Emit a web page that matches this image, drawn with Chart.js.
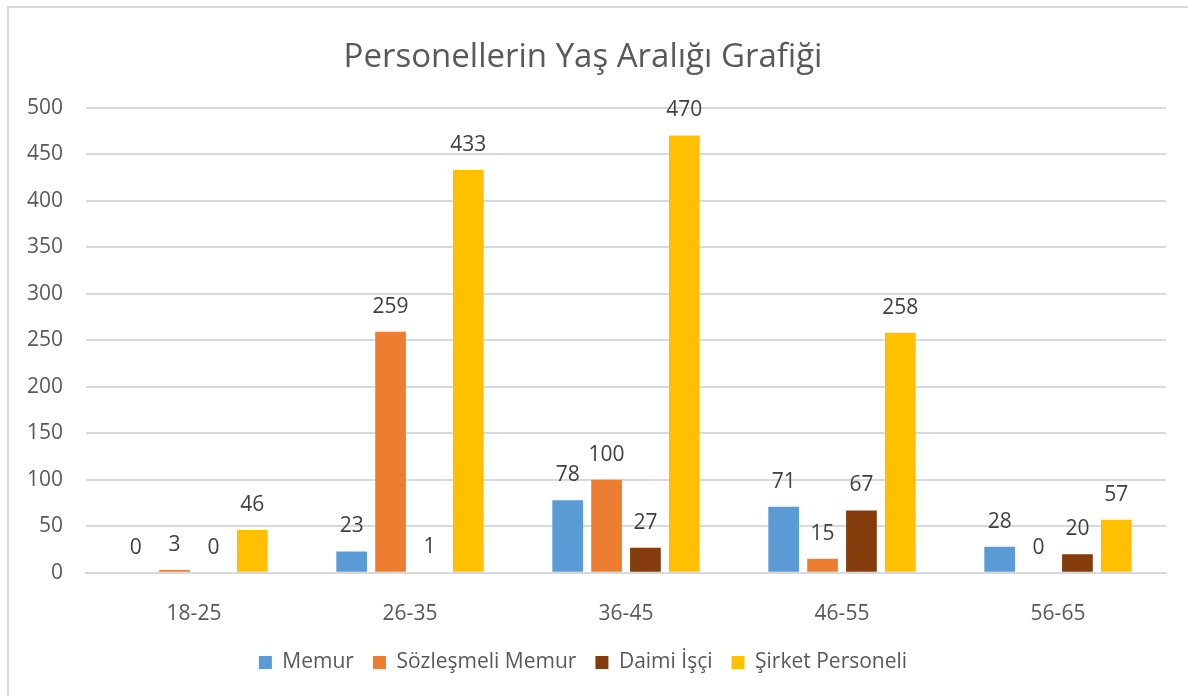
<!DOCTYPE html>
<html>
<head>
<meta charset="utf-8">
<script src="https://cdn.jsdelivr.net/npm/chart.js@4.4.1/dist/chart.umd.min.js"></script>
<style>
  html, body { margin: 0; padding: 0; background: #fff; overflow: hidden; }
  #frame { position: absolute; left: 7px; top: 6px; width: 1200px; height: 720px; border: 2px solid #d9d9d9; box-sizing: border-box; }
  #wrap { position: absolute; left: 0; top: 0; width: 1188px; height: 696px; }
</style>
</head>
<body>
<div id="frame"></div>
<div id="wrap"><canvas id="chart"></canvas></div>
<script>
const categories = ['18-25', '26-35', '36-45', '46-55', '56-65'];
const seriesNames = ['Memur', 'Sözleşmeli Memur', 'Daimi İşçi', 'Şirket Personeli'];
const memur = [0, 23, 78, 71, 28];
const sozlesmeliMemur = [3, 259, 100, 15, 0];
const daimiIsci = [0, 1, 27, 67, 20];
const sirketPersoneli = [46, 433, 470, 258, 57];
const yTicks = [0, 50, 100, 150, 200, 250, 300, 350, 400, 450, 500];

const colors = ['#5B9BD5', '#ED7D31', '#843C0C', '#FFC000'];
const FONT = "'Open Sans', 'DejaVu Sans', sans-serif";
const TEXT = '#595959';

// value labels above each bar
const valueLabels = {
    id: 'valueLabels',
    afterDatasetsDraw(chart) {
        const ctx = chart.ctx;
        ctx.save();
        ctx.font = `21px ${FONT}`;
        ctx.fillStyle = '#404040';
        ctx.textAlign = 'center';
        ctx.textBaseline = 'middle';
        chart.data.datasets.forEach((ds, i) => {
            chart.getDatasetMeta(i).data.forEach((bar, j) => {
                ctx.fillText(String(ds.data[j]), bar.x, bar.y - 25);
            });
        });
        ctx.restore();
    }
};

const seriesData = [memur, sozlesmeliMemur, daimiIsci, sirketPersoneli];

new Chart(document.getElementById('chart'), {
    type: 'bar',
    data: {
        labels: categories,
        datasets: seriesNames.map((name, i) => ({
            label: name,
            data: seriesData[i],
            backgroundColor: colors[i],
            categoryPercentage: 0.72,
            barPercentage: 0.79
        }))
    },
    options: {
        responsive: true,
        maintainAspectRatio: false,
        animation: false,
        layout: { padding: { left: 0, right: 22, top: 38, bottom: 13 } },
        plugins: {
            title: {
                display: true,
                text: 'Personellerin Yaş Aralığı Grafiği',
                color: TEXT,
                font: { family: FONT, size: 33, weight: 'normal' },
                padding: { top: 0, bottom: 30 }
            },
            legend: {
                position: 'bottom',
                labels: {
                    color: TEXT,
                    font: { family: FONT, size: 21 },
                    boxWidth: 13,
                    boxHeight: 13,
                    padding: 19
                }
            },
            tooltip: { enabled: false }
        },
        scales: {
            x: {
                afterFit: s => { s.height -= 23; },
                grid: { display: false, drawTicks: false },
                border: { color: '#d9d9d9', width: 2 },
                ticks: { color: TEXT, font: { family: FONT, size: 21 }, padding: 29 }
            },
            y: {
                min: 0,
                max: 500,
                afterFit: s => { s.width = 86; },
                afterBuildTicks: s => { s.ticks = yTicks.map(v => ({ value: v })); },
                grid: { color: '#d9d9d9', lineWidth: 2, drawTicks: false },
                border: { display: false },
                ticks: { color: TEXT, font: { family: FONT, size: 21 }, padding: 23 }
            }
        }
    },
    plugins: [valueLabels]
});
</script>
</body>
</html>
